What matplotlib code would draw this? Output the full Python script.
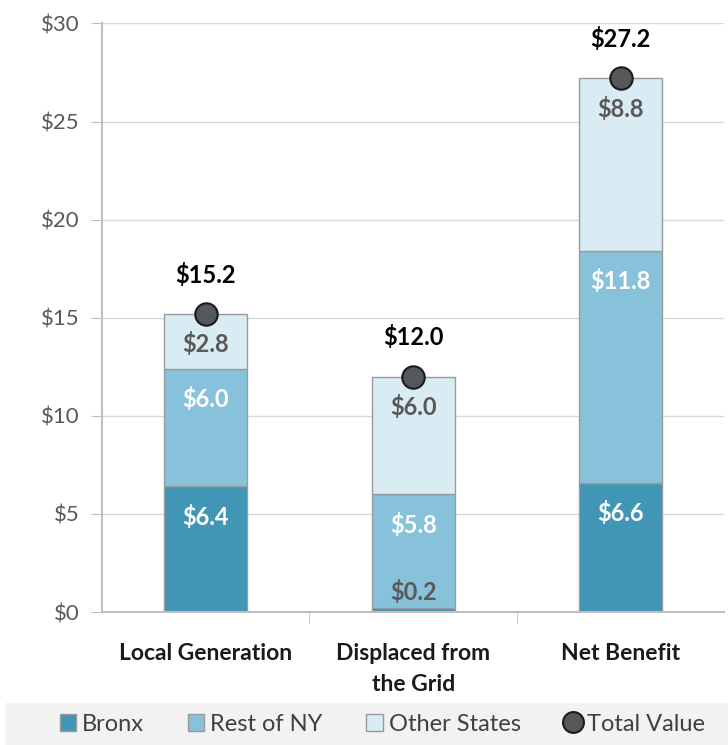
import numpy as np
import matplotlib
matplotlib.use("Agg")
import matplotlib.pyplot as plt
from matplotlib.patches import Patch
from matplotlib.lines import Line2D

plt.rcParams['font.family'] = ['Lato', 'DejaVu Sans']

# 数据
categories = ["Local Generation", "Displaced from\nthe Grid", "Net Benefit"]
series_names = ["Bronx", "Rest of NY", "Other States"]
bronx = [6.4, 0.2, 6.6]
rest_ny = [6.0, 5.8, 11.8]
other_states = [2.8, 6.0, 8.8]
totals = [15.2, 12.0, 27.2]
y_ticks = [0, 5, 10, 15, 20, 25, 30]

colors = ["#4196b6", "#88c2da", "#daecf3"]
label_colors = ["white", "white", "#595959"]

fig = plt.figure(figsize=(7.28, 7.45), dpi=100)
ax = fig.add_axes([0.140, 0.1785, 0.855, 0.790])

x = np.arange(len(categories))
width = 0.4
bottom = np.zeros(len(categories))
for vals, col, lc in zip([bronx, rest_ny, other_states], colors, label_colors):
    vals = np.array(vals)
    ax.bar(x, vals, width, bottom=bottom, color=col, edgecolor="#9a9a9a",
           linewidth=1, zorder=2)
    for xi, b, v in zip(x, bottom, vals):
        top = b + v
        if v > 2:
            ax.text(xi, top - 1.55, f"${v:.1f}", ha="center", va="center",
                    color=lc, fontsize=17, fontweight="bold", zorder=4)
        else:
            # 太小的段，标签放在上方
            ax.text(xi, top + 0.8, f"${v:.1f}", ha="center", va="center",
                    color="#595959", fontsize=17, fontweight="bold", zorder=4)
    bottom = bottom + vals

ax.scatter(x, totals, s=260, color="#54585b", edgecolor="#1a1a1a",
           linewidth=1.5, zorder=5)
for xi, t in zip(x, totals):
    ax.text(xi, t + 2.0, f"${t:.1f}", ha="center", va="center",
            color="black", fontsize=17, fontweight="bold", zorder=5)

ax.set_xlim(-0.5, 2.5)
ax.set_ylim(0, 30)
ax.set_yticks(y_ticks)
ax.set_yticklabels([f"${v}" for v in y_ticks], fontsize=16, color="#595959")
ax.yaxis.grid(True, color="#d9d9d9", linewidth=1, zorder=0)
ax.set_axisbelow(True)
ax.tick_params(axis="y", length=8, color="#bfbfbf", pad=8)

ax.set_xticks(x)
ax.set_xticklabels(categories, fontsize=16.5, fontweight="bold", color="#1a1a1a",
                   linespacing=1.6)
ax.tick_params(axis="x", length=0, pad=22)
ax.set_xticks([0.5, 1.5], minor=True)
ax.tick_params(axis="x", which="minor", length=8, color="#bfbfbf")

for s in ["top", "right"]:
    ax.spines[s].set_visible(False)
ax.spines["left"].set_color("#bfbfbf")
ax.spines["bottom"].set_color("#bfbfbf")
ax.spines["left"].set_linewidth(1.5)
ax.spines["bottom"].set_linewidth(1.5)

# 底部图例
fig.patches.append(plt.Rectangle((0.007, 0.0), 0.993, 0.057, transform=fig.transFigure,
                                 facecolor="#f2f2f2", edgecolor="none", zorder=0))
handles = [Patch(facecolor=c, edgecolor="#9a9a9a", label=n)
           for c, n in zip(colors, series_names)]
handles.append(Line2D([0], [0], marker="o", linestyle="none", markersize=15,
                      markerfacecolor="#54585b", markeredgecolor="#1a1a1a",
                      markeredgewidth=1.5, label="Total Value"))
fig.legend(handles=handles, loc="center", bbox_to_anchor=(0.525, 0.028), ncol=4,
           frameon=False, fontsize=17, handlelength=0.7, handleheight=0.7,
           handletextpad=0.25, columnspacing=1.85, labelcolor="#404040")

fig.savefig("out.png", dpi=100)
